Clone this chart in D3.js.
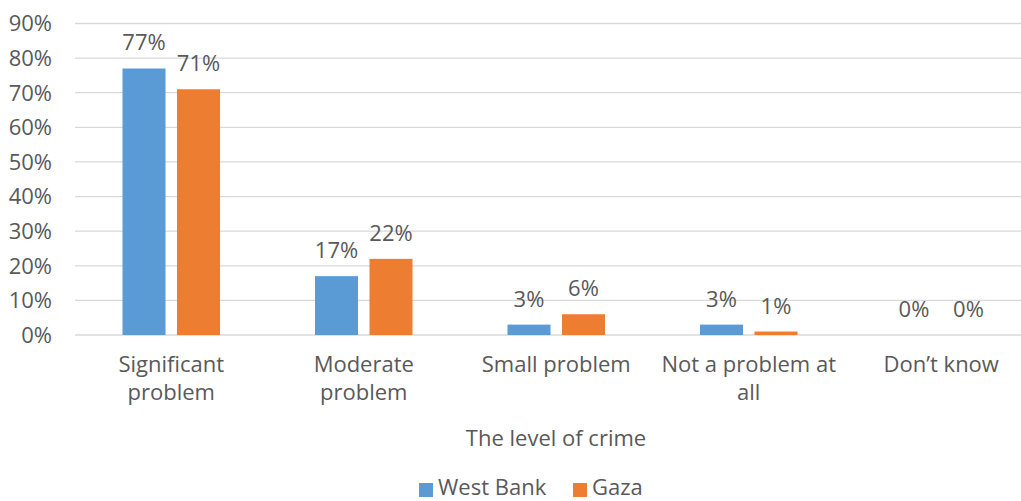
<!DOCTYPE html>
<html>
<head>
<meta charset="utf-8">
<script src="https://cdn.jsdelivr.net/npm/d3@7"></script>
<style>
  html, body { margin: 0; padding: 0; background: #fff; }
  text { font-family: "Open Sans", "Noto Sans", sans-serif; fill: #595959; }
</style>
</head>
<body>
<svg id="chart" width="1021" height="501"></svg>
<script>
const categories = ["Significant\nproblem", "Moderate\nproblem", "Small problem", "Not a problem at\nall", "Don\u2019t know"];
const series = ["West Bank", "Gaza"];
const westBank = [0.77, 0.17, 0.03, 0.03, 0.00];
const gaza = [0.71, 0.22, 0.06, 0.01, 0.00];
const yTicks = [0, 0.1, 0.2, 0.3, 0.4, 0.5, 0.6, 0.7, 0.8, 0.9];
const colors = ["#5B9BD5", "#ED7D31"];
const axisTitle = "The level of crime";

const values = [westBank, gaza];
const svg = d3.select("#chart");
const fmt = d3.format(".0%");
const FS = 22;

const left = 75, bandStep = 192.5;
const x0 = d3.scaleBand().domain(categories).range([left, left + bandStep * categories.length]).padding(0);
const x1 = d3.scaleBand().domain(series).range([47.5, 145]).paddingInner(0.211).paddingOuter(0);
const y = d3.scaleLinear().domain([0, 0.9]).range([335, 23.5]);

// gridlines
svg.append("g").selectAll("line").data(yTicks).join("line")
  .attr("x1", left).attr("x2", 1021)
  .attr("y1", d => y(d)).attr("y2", d => y(d))
  .attr("stroke", "#D9D9D9").attr("stroke-width", 1.3);

// y tick labels
svg.append("g").selectAll("text").data(yTicks).join("text")
  .attr("x", 52).attr("y", d => y(d)).attr("dy", "0.36em")
  .attr("text-anchor", "end").attr("font-size", FS)
  .text(d => fmt(d));

// bars
const groups = svg.append("g").selectAll("g").data(categories).join("g")
  .attr("transform", d => `translate(${x0(d)},0)`);

series.forEach((s, si) => {
  groups.append("rect")
    .attr("x", x1(s)).attr("width", x1.bandwidth())
    .attr("y", (d, i) => y(values[si][i]))
    .attr("height", (d, i) => y(0) - y(values[si][i]))
    .attr("fill", colors[si]);
  groups.append("text")
    .attr("x", x1(s) + x1.bandwidth() / 2)
    .attr("y", (d, i) => y(values[si][i]) - 18)
    .attr("text-anchor", "middle").attr("font-size", FS)
    .text((d, i) => fmt(values[si][i]));
});

// category labels
groups.append("text")
  .attr("x", bandStep / 2).attr("y", 372)
  .attr("text-anchor", "middle").attr("font-size", FS)
  .each(function(d) {
    const t = d3.select(this);
    d.split("\n").forEach((line, li) => {
      t.append("tspan").attr("x", bandStep / 2).attr("dy", li === 0 ? 0 : 28).text(line);
    });
  });

// axis title
svg.append("text").attr("x", 556).attr("y", 446).attr("text-anchor", "middle")
  .attr("font-size", FS).text(axisTitle);

// legend
const legendX = [419, 573];
const leg = svg.append("g").selectAll("g").data(series).join("g")
  .attr("transform", (d, i) => `translate(${legendX[i]},0)`);
leg.append("rect").attr("x", 0).attr("y", 483).attr("width", 14).attr("height", 14)
  .attr("fill", (d, i) => colors[i]);
leg.append("text").attr("x", 19).attr("y", 495).attr("font-size", FS).text(d => d);
</script>
</body>
</html>
